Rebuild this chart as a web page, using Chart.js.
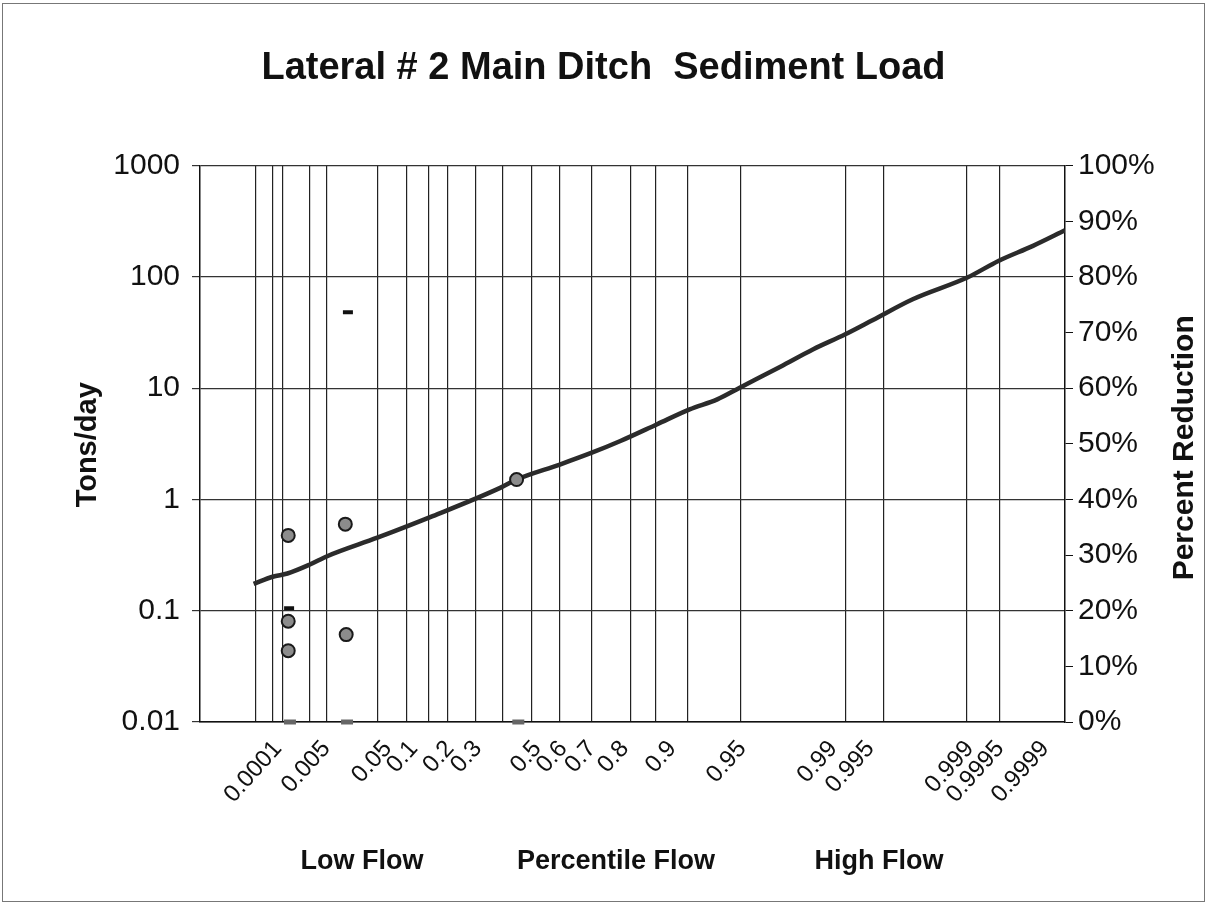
<!DOCTYPE html>
<html>
<head>
<meta charset="utf-8">
<title>Lateral # 2 Main Ditch Sediment Load</title>
<script src="https://cdn.jsdelivr.net/npm/chart.js@4.4.1/dist/chart.umd.min.js"></script>
<style>
    html, body { margin: 0; padding: 0; background: #fff; }
    #graph-container { width: 1207px; height: 904px; position: relative; }
</style>
</head>
<body>
<div id="graph-container"><canvas id="myChart"></canvas></div>
<script>
// x axis = position on the (hand drawn) percentile flow scale, 0 = left edge, 100 = right edge
var flowLabels = ['0.0001', '0.005', '0.05', '0.1', '0.2', '0.3', '0.5', '0.6', '0.7', '0.8',
    '0.9', '0.95', '0.99', '0.995', '0.999', '0.9995', '0.9999'];
var flowLabelPos = [9.0, 14.6, 21.7, 24.7, 28.9, 32.1, 39.0, 42.0, 45.3, 49.1,
    54.6, 62.7, 73.2, 77.5, 89.0, 92.5, 97.7];
var flowGridPos = [6.4, 8.4, 9.6, 12.7, 14.6, 20.5, 23.9, 26.4, 28.6, 31.9, 35.0,
    38.3, 41.6, 45.3, 49.8, 52.7, 56.4, 62.5, 74.6, 79.0, 88.6, 92.4];

// load duration curve (tons/day)
var curveX = [6.2, 8.4, 10.1, 12.7, 14.7, 20.5, 26.9, 34.7, 36.6, 41.6, 45.3, 48.6, 52.8,
    56.6, 59.8, 62.4, 67.1, 70.9, 74.6, 77.8, 82.4, 88.7, 92.3, 96.3, 100];
var curveLoad = [0.174, 0.202, 0.216, 0.260, 0.309, 0.453, 0.708, 1.27, 1.51, 2.06, 2.63, 3.35, 4.72,
    6.45, 7.93, 10.1, 15.6, 22.4, 30.5, 41.0, 62.9, 98.6, 139, 190, 262];

// measured loads
var sampleX = [10.2, 10.2, 10.2, 16.8, 16.9, 36.6];
var sampleLoad = [0.475, 0.0805, 0.0437, 0.60, 0.061, 1.51];

// dash markers
var dashX = [10.3, 17.1];
var dashLoad = [0.105, 48];

// markers sitting on the bottom axis
var zeroX = [10.4, 17.0, 36.8];
var zeroLoad = [0.01, 0.01, 0.01];

var loadTicks = [0.01, 0.1, 1, 10, 100, 1000];

var zoneLabels = ['Low Flow', 'Percentile Flow', 'High Flow'];

Chart.defaults.font.family = '"Liberation Sans", Arial, sans-serif';
Chart.defaults.color = '#111';

function toPoints(xs, ys) {
    return xs.map(function (x, i) { return { x: x, y: ys[i] }; });
}

var myChart = null;

// white page, frame, axis titles and the flow zone names
var chartText = {
    id: 'chartText',
    beforeDraw: function (chart) {
        var ctx = chart.ctx;
        ctx.save();
        ctx.fillStyle = '#fff';
        ctx.fillRect(0, 0, chart.width, chart.height);
        ctx.restore();
    },
    afterDraw: function (chart) {
        var ctx = chart.ctx;
        var area = chart.chartArea;
        var midY = (area.top + area.bottom) / 2;
        ctx.save();
        ctx.strokeStyle = '#777';
        ctx.lineWidth = 1;
        ctx.strokeRect(2.5, 3.5, chart.width - 5, chart.height - 6);

        ctx.fillStyle = '#111';
        ctx.textAlign = 'center';
        ctx.textBaseline = 'middle';

        ctx.font = 'bold 29px "Liberation Sans", Arial, sans-serif';
        ctx.save();
        ctx.translate(88, midY + 1);
        ctx.rotate(-Math.PI / 2);
        ctx.fillText('Tons/day', 0, 0);
        ctx.restore();

        ctx.font = 'bold 30px "Liberation Sans", Arial, sans-serif';
        ctx.save();
        ctx.translate(1185, midY + 4);
        ctx.rotate(-Math.PI / 2);
        ctx.fillText('Percent Reduction', 0, 0);
        ctx.restore();

        ctx.font = 'bold 27px "Liberation Sans", Arial, sans-serif';
        var zoneX = [362, 616, 879];
        for (var i = 0; i < zoneLabels.length; i++) {
            ctx.fillText(zoneLabels[i], zoneX[i], 862);
        }
        ctx.restore();
    }
};

function drawChart() {
    if (myChart != null) {
        myChart.destroy();
    }
    var ctx = document.getElementById('myChart').getContext('2d');

    myChart = new Chart(ctx, {
        type: 'scatter',
        data: {
            datasets: [{
                label: 'Samples',
                data: toPoints(sampleX, sampleLoad),
                pointStyle: 'circle',
                pointRadius: 6.5,
                backgroundColor: '#8c8c8c',
                borderColor: '#1a1a1a',
                borderWidth: 2,
                order: 1
            }, {
                label: 'Dash',
                data: toPoints(dashX, dashLoad),
                pointStyle: 'line',
                pointRadius: 5,
                borderColor: '#111',
                borderWidth: 4,
                order: 2
            }, {
                label: 'Zero',
                data: toPoints(zeroX, zeroLoad),
                pointStyle: 'line',
                pointRadius: 6,
                borderColor: '#666',
                borderWidth: 5,
                clip: false,
                order: 3
            }, {
                label: 'Load Duration Curve',
                type: 'line',
                data: toPoints(curveX, curveLoad),
                borderColor: '#2b2b2b',
                borderWidth: 4.5,
                pointRadius: 0,
                tension: 0.3,
                cubicInterpolationMode: 'monotone',
                fill: false,
                order: 4
            }]
        },
        options: {
            responsive: true,
            maintainAspectRatio: false,
            animation: { duration: 0 },
            layout: { padding: 0 },
            plugins: {
                legend: { display: false },
                tooltip: { enabled: false },
                title: {
                    display: true,
                    text: 'Lateral # 2 Main Ditch  Sediment Load',
                    font: { size: 38, weight: 'bold' },
                    color: '#111',
                    padding: { top: 46, bottom: 74 }
                }
            },
            scales: {
                x: {
                    type: 'linear',
                    position: 'bottom',
                    min: 0,
                    max: 100,
                    weight: 0,
                    grid: { color: '#222', lineWidth: 1.2, drawTicks: false },
                    border: { display: true, color: '#111', width: 1.5 },
                    ticks: { display: false },
                    afterBuildTicks: function (scale) {
                        scale.ticks = flowGridPos.map(function (v) { return { value: v }; });
                    },
                    afterFit: function (scale) { scale.height = 0; }
                },
                xLabels: {
                    type: 'linear',
                    position: 'bottom',
                    min: 0,
                    max: 100,
                    weight: 1,
                    grid: { display: false, drawTicks: false },
                    border: { display: false },
                    ticks: {
                        autoSkip: false,
                        minRotation: 48,
                        maxRotation: 48,
                        padding: 13,
                        font: { size: 24 },
                        color: '#111',
                        callback: function (v, i) { return flowLabels[i]; }
                    },
                    afterBuildTicks: function (scale) {
                        scale.ticks = flowLabelPos.map(function (v) { return { value: v }; });
                    },
                    afterFit: function (scale) { scale.height = 182; }
                },
                y: {
                    type: 'logarithmic',
                    position: 'left',
                    min: 0.01,
                    max: 1000,
                    grid: { color: '#333', lineWidth: 1.2, tickLength: 8 },
                    border: { color: '#111', width: 1.5 },
                    ticks: {
                        padding: 12,
                        font: { size: 30 },
                        color: '#111',
                        callback: function (v) { return String(v); }
                    },
                    afterBuildTicks: function (scale) {
                        scale.ticks = loadTicks.map(function (v) { return { value: v }; });
                    },
                    afterFit: function (scale) { scale.width = 200; }
                },
                y2: {
                    type: 'linear',
                    position: 'right',
                    min: 0,
                    max: 1,
                    grid: { drawOnChartArea: false, color: '#111', tickLength: 8 },
                    border: { color: '#111', width: 1.5 },
                    ticks: {
                        stepSize: 0.1,
                        padding: 5,
                        font: { size: 30 },
                        color: '#111',
                        callback: function (v) { return Math.round(v * 100) + '%'; }
                    },
                    afterFit: function (scale) { scale.width = 142; }
                }
            }
        },
        plugins: [chartText]
    });
}

drawChart();
</script>
</body>
</html>
